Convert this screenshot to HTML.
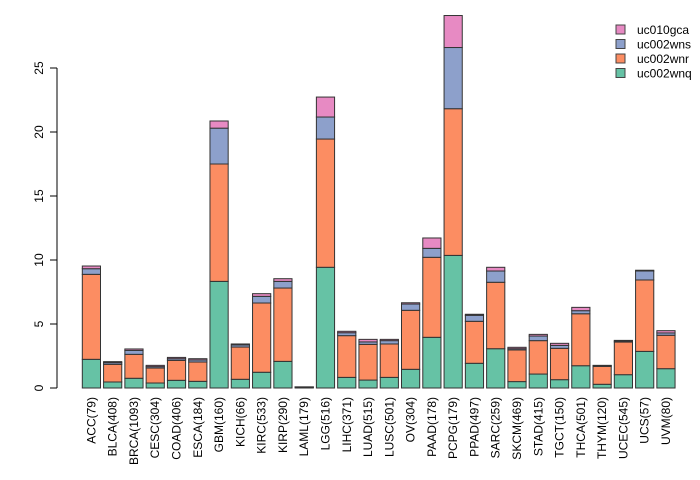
<!DOCTYPE html>
<html><head><meta charset="utf-8"><style>
body{margin:0;background:#fff}
svg{display:block;font-family:"Liberation Sans",sans-serif}
</style></head><body>
<svg id="chart" width="700" height="480"></svg>
<script>
const categories=["ACC(79)","BLCA(408)","BRCA(1093)","CESC(304)","COAD(406)","ESCA(184)","GBM(160)","KICH(66)","KIRC(533)","KIRP(290)","LAML(179)","LGG(516)","LIHC(371)","LUAD(515)","LUSC(501)","OV(304)","PAAD(178)","PCPG(179)","PPAD(497)","SARC(259)","SKCM(469)","STAD(415)","TGCT(150)","THCA(501)","THYM(120)","UCEC(545)","UCS(57)","UVM(80)"];
const uc002wnq=[2.24,0.47,0.76,0.39,0.6,0.52,8.33,0.68,1.23,2.08,0.05,9.43,0.83,0.62,0.83,1.46,3.96,10.36,1.93,3.07,0.5,1.09,0.65,1.74,0.29,1.04,2.86,1.51];
const uc002wnr=[6.64,1.38,1.87,1.17,1.56,1.51,9.17,2.52,5.41,5.73,0.02,10.02,3.26,2.79,2.61,4.61,6.25,11.46,3.28,5.19,2.47,2.61,2.45,4.06,1.4,2.55,5.58,2.61];
const uc002wns=[0.44,0.13,0.31,0.11,0.13,0.16,2.8,0.16,0.52,0.52,0.01,1.72,0.23,0.19,0.26,0.49,0.7,4.78,0.47,0.88,0.1,0.36,0.23,0.24,0.05,0.08,0.7,0.18];
const uc010gca=[0.21,0.08,0.11,0.1,0.1,0.1,0.56,0.08,0.21,0.21,0.01,1.56,0.11,0.2,0.1,0.1,0.81,2.5,0.08,0.29,0.11,0.13,0.16,0.26,0.03,0.05,0.06,0.18];
const yTicks=[0,5,10,15,20,25];
const seriesNames=["uc002wnq","uc002wnr","uc002wns","uc010gca"];

const NS="http://www.w3.org/2000/svg";
const svg=document.getElementById('chart');
const colors=["#66C2A5","#FC8D62","#8DA0CB","#E78AC3"];
const y0=388,pxPerUnit=12.8,x0=82.3,step=21.28,bw=18.2;
const yScale=v=>y0-v*pxPerUnit;
const xScale=i=>x0+i*step;
function mk(tag,attrs){const e=document.createElementNS(NS,tag);for(const k in attrs)e.setAttribute(k,attrs[k]);svg.appendChild(e);return e;}

// y axis
const ax=mk('line',{x1:57,x2:57,y1:yScale(0),y2:yScale(25),stroke:'#000'});


yTicks.forEach(t=>{
  const tk=mk('line',{x1:50,x2:57,y1:yScale(t),y2:yScale(t),stroke:'#000'});
  
  
  const tl=mk('text',{x:43,y:yScale(t),'font-size':12,'text-anchor':'middle',transform:`rotate(-90 43 ${yScale(t)})`});
  tl.textContent=t;
  
  
});

const series=[uc002wnq,uc002wnr,uc002wns,uc010gca];
categories.forEach((c,i)=>{
  let cum=0;
  const x=xScale(i);
  series.forEach((s,k)=>{
    const v=s[i];
    const r=mk('rect',{x:x,y:yScale(cum+v),width:bw,height:v*pxPerUnit,fill:colors[k],stroke:'#333','stroke-width':1});
    
    
    cum+=v;
  });
  const cx=x+bw/2+4;
  const t=mk('text',{x:cx,y:397,'font-size':12,'text-anchor':'end',transform:`rotate(-90 ${cx} 397)`});
  t.textContent=c;
  
  
});

// legend
const legOrder=[3,2,1,0];
legOrder.forEach((k,j)=>{
  const yy=30+j*14.5;
  const r=mk('rect',{x:616,y:yy-5,width:9,height:9,fill:colors[k],stroke:'#444'});
  
  
  const t=mk('text',{x:637,y:yy+4,'font-size':12});
  t.textContent=seriesNames[k];
  
  
});
</script>
</body></html>
